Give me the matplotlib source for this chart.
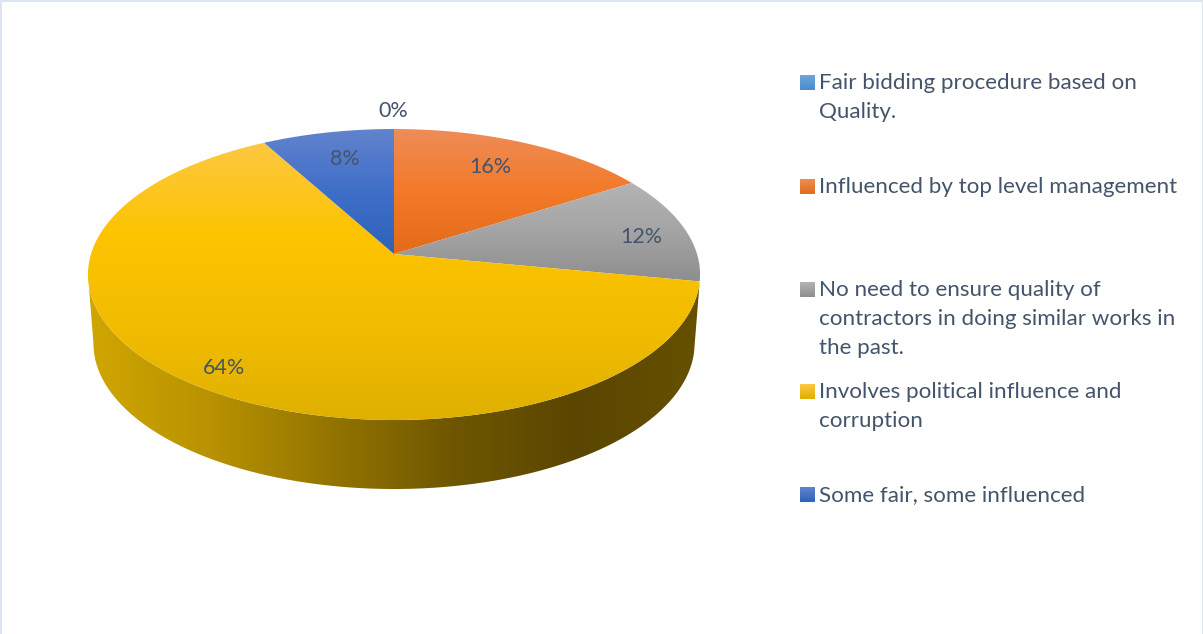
import numpy as np
import matplotlib
matplotlib.use('Agg')
import matplotlib.pyplot as plt
from matplotlib.colors import LinearSegmentedColormap
from matplotlib.patches import Polygon, Rectangle

plt.rcParams['font.family'] = ['Lato', 'DejaVu Sans']

categories = [
    ['Fair bidding procedure based on', 'Quality.'],
    ['Influenced by top level management'],
    ['No need to ensure quality of', 'contractors in doing similar works in', 'the past.'],
    ['Involves political influence and', 'corruption'],
    ['Some fair, some influenced'],
]
shares = [0, 16, 12, 64, 8]
pct_labels = ['0%', '16%', '12%', '64%', '8%']

# colour stops of each slice's top face, top to bottom of the slice
slice_ramps = [
    ['#6ea6dc', '#4a8ccb'],
    ['#ee8c58', '#f37a28', '#e36a18'],
    ['#b4b4b4', '#a4a4a4', '#8e8e8e'],
    ['#fdc843', '#fcc400', '#f2bc00', '#dfb000'],
    ['#6283cd', '#3f6fc8', '#2f62b8'],
]
side_colors = ['#d0a600', '#b89200', '#937400', '#6e5600', '#5a4600', '#665000']
text_color = '#44546a'
edge_color = '#dfe5ee'

# pie projection: circle in a tilted plane, pixels from the apex
cx, cy = 394, 254
A, B, k = 303, 142.6, 0.141
depth_y, depth_scale = 69, 0.982

legend_x = 819
swatch_size = 15
legend_rows = [[83, 112], [187], [290, 319, 348], [392, 421], [495]]
label_xy = [(393, 111), (490, 167), (641, 237), (224, 368), (345, 159)]


def top_xy(theta):
    u, v = np.sin(theta), np.cos(theta)
    w = 1 + k * v
    return cx + A * u / w, cy - B * v / w


def bottom_xy(theta):
    u, v = np.sin(theta), np.cos(theta)
    w = 1 + k * v
    return cx + depth_scale * A * u / w, cy + depth_y - B * v / w


def fill_gradient(ax, patch, colors, extent, horizontal=False):
    cmap = LinearSegmentedColormap.from_list('ramp', colors)
    ramp = np.linspace(0, 1, 256)
    ramp = ramp[None, :] if horizontal else ramp[:, None]
    patch.set(facecolor='none', edgecolor='none')
    ax.add_patch(patch)
    im = ax.imshow(ramp, cmap=cmap, extent=extent, origin='upper', aspect='auto',
                   interpolation='bilinear', zorder=patch.get_zorder())
    im.set_clip_path(patch)


fig = plt.figure(figsize=(12.03, 6.34), dpi=100, facecolor='white')
ax = fig.add_axes([0, 0, 1, 1])
ax.axis('off')

fractions = np.array(shares) / sum(shares)
starts = np.concatenate([[0], np.cumsum(fractions)[:-1]]) * 2 * np.pi
ends = np.cumsum(fractions) * 2 * np.pi
biggest = int(np.argmax(shares))

# rim of the largest slice, up to where the pie's outline turns away
rim_end = 2 * np.pi - np.arccos(-k)
rim = np.linspace(starts[biggest], rim_end, 200)
tx, ty = top_xy(rim)
bx, by = bottom_xy(rim)
side = np.column_stack([np.r_[tx, bx[::-1]], np.r_[ty, by[::-1]]])
fill_gradient(ax, Polygon(side, closed=True, zorder=1), side_colors,
              (88, 700, 489, 129), horizontal=True)

# top faces
for start, end, ramp in zip(starts, ends, slice_ramps):
    if end <= start:
        continue
    t = np.linspace(start, end, 200)
    x, y = top_xy(t)
    pts = np.column_stack([np.r_[cx, x], np.r_[cy, y]])
    fill_gradient(ax, Polygon(pts, closed=True, zorder=2), ramp,
                  (80, 710, pts[:, 1].max(), pts[:, 1].min()))

for (x, y), label in zip(label_xy, pct_labels):
    ax.text(x, y, label, color=text_color, fontsize=15.5, ha='center', va='center', zorder=3)

# legend
for lines, rows, ramp in zip(categories, legend_rows, slice_ramps):
    swatch = Rectangle((800, rows[0] - 8), swatch_size, swatch_size, zorder=2)
    fill_gradient(ax, swatch, [ramp[0], ramp[-1]],
                  (800, 800 + swatch_size, rows[0] + 7, rows[0] - 8))
    for line, y in zip(lines, rows):
        ax.text(legend_x, y, line, color=text_color, fontsize=16.1, ha='left', va='center')

# thin frame along the left, top and right edges
ax.add_patch(Rectangle((0, 0), 2, 634, facecolor=edge_color, edgecolor='none', zorder=4))
ax.add_patch(Rectangle((0, 0), 1203, 1.5, facecolor=edge_color, edgecolor='none', zorder=4))
ax.add_patch(Rectangle((1201.5, 0), 1.5, 634, facecolor=edge_color, edgecolor='none', zorder=4))

ax.set_xlim(0, 1203)
ax.set_ylim(634, 0)
fig.savefig('out.png', dpi=100)
